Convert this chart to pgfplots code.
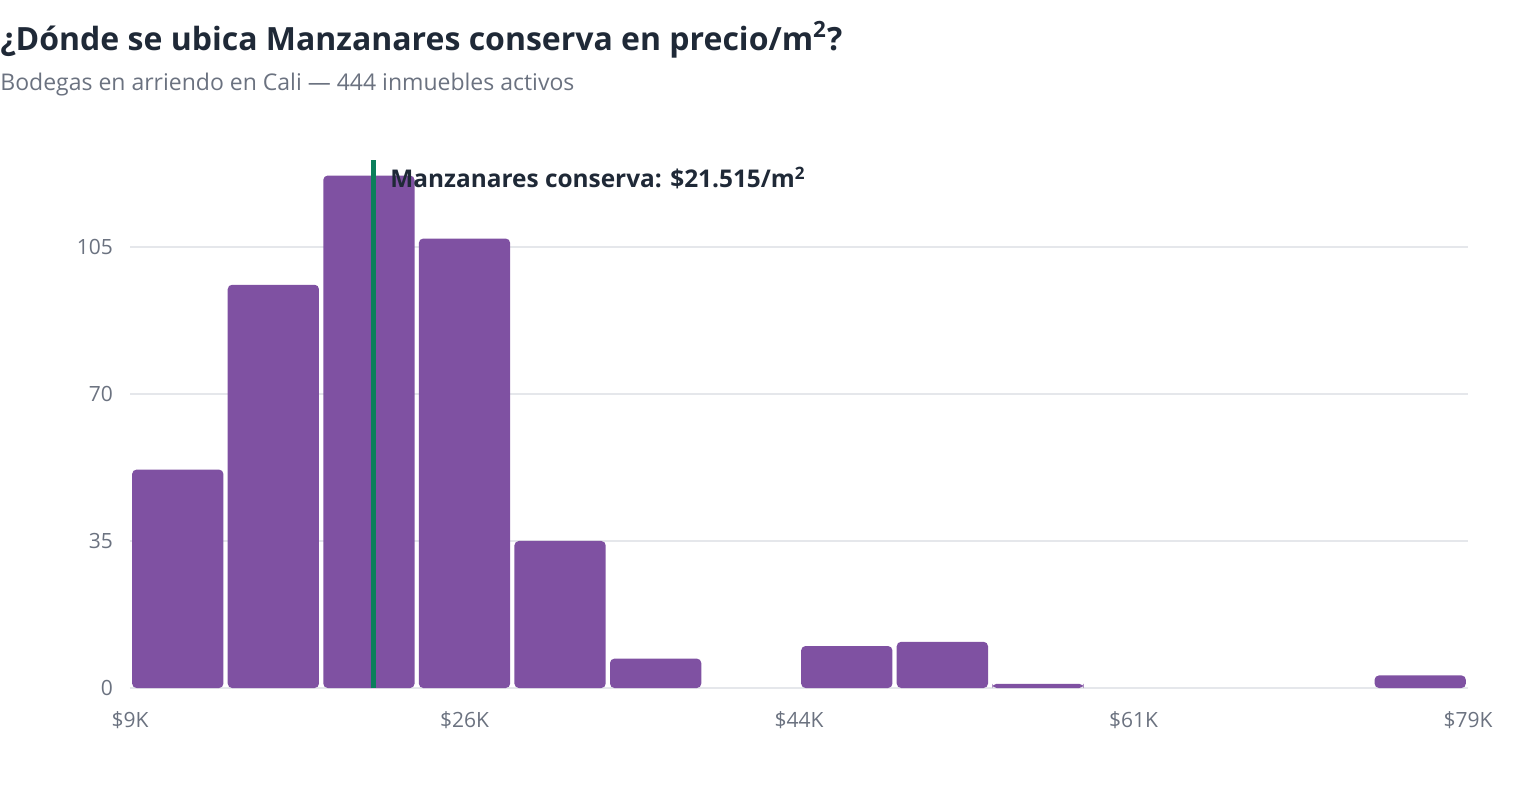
\documentclass[border=0pt]{standalone}
\usepackage{pgfplots}
\pgfplotsset{compat=1.18}
\usepackage{fontspec}
\setmainfont{Open Sans}
\definecolor{barpurple}{HTML}{7F51A2}
\definecolor{linegreen}{HTML}{0B7F5B}
\definecolor{titlecol}{HTML}{1F2937}
\definecolor{subcol}{HTML}{6B7280}
\definecolor{gridcol}{HTML}{E5E7EB}
\begin{document}
\begin{tikzpicture}
\path[use as bounding box] (0pt,0pt) rectangle (760pt,400pt);
\node[anchor=west,inner sep=0pt,text=titlecol,font=\fontsize{16}{18}\selectfont\bfseries] at (0pt,380pt) {¿Dónde se ubica Manzanares conserva en precio/m\textsuperscript{2}?};
\node[anchor=west,inner sep=0pt,text=subcol,font=\fontsize{11.5}{13}\selectfont] at (0pt,357.5pt) {Bodegas en arriendo en Cali — 444 inmuebles activos};
\begin{axis}[
  at={(65pt,56pt)}, anchor=origin,
  scale only axis, width=669pt, height=264pt,
  xmin=0, xmax=14, ymin=0, ymax=125.7,
  axis x line*=bottom, axis y line*=left,
  x axis line style={draw=gridcol, line width=1pt},
  y axis line style={draw=none},
  xtick={0,3.5,7,10.5,14},
  xticklabels={\$9K,\$26K,\$44K,\$61K,\$79K},
  ytick={0,35,70,105},
  yticklabels={0,35,70,105},
  ymajorgrids, grid style={draw=gridcol, line width=0.7pt},
  major tick length=0pt,
  tick label style={text=subcol, font=\fontsize{10.5}{12}\selectfont},
  xticklabel style={yshift=-8pt},
  yticklabel style={xshift=-5pt},
  clip=false,
]
\addplot[ybar, bar width=0.955, bar shift=0pt, fill=barpurple, draw=none, rounded corners=2.2pt]
 coordinates {(0.5,52) (1.5,96) (2.5,122) (3.5,107) (4.5,35) (5.5,7) (7.5,10) (8.5,11) (9.5,1) (13.5,3)};
\addplot[linegreen, line width=2.5pt] coordinates {(2.553,0) (2.553,125.7)};
\node[anchor=west, inner sep=0pt, text=titlecol, font=\fontsize{12.2}{14}\selectfont\bfseries] at (axis cs:2.72,121.4) {Manzanares conserva: \$21.515/m\textsuperscript{2}};
\end{axis}
\end{tikzpicture}
\end{document}
